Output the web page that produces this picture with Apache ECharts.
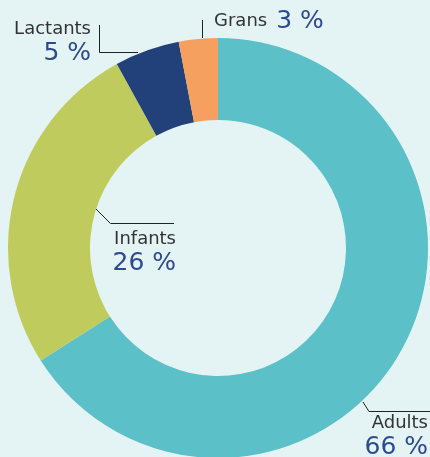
<!DOCTYPE html>
<html>
<head>
<meta charset="utf-8">
<script src="https://cdn.jsdelivr.net/npm/echarts@6/dist/echarts.min.js"></script>
<style>
  html, body { margin: 0; padding: 0; background: #e4f3f4; }
  #chart { width: 430px; height: 457px; }
</style>
</head>
<body>
<div id="chart"></div>
<script>
// dades
const categories = ['Adults', 'Infants', 'Lactants', 'Grans'];
const values = [66, 26, 5, 3];
const colors = ['#5bc0c7', '#bfcc5d', '#22417b', '#f6a05f'];

// posicions de les etiquetes (x, y, alineació) i línies guia
const labelPos = [
  { x: 428, y: 412, align: 'right', line: [[363, 402], [369, 411.5], [430, 411.5]] },
  { x: 176, y: 228, align: 'right', line: [[96, 209], [110.5, 223.5], [174, 223.5]] },
  { x: 91, y: 18, align: 'right', line: [[138, 52.5], [99.5, 52.5], [99.5, 25]] },
  { x: 214, y: 8, align: 'left', line: [[202.5, 38], [202.5, 20]] }
];

const chart = echarts.init(document.getElementById('chart'));

chart.setOption({
  backgroundColor: '#e4f3f4',
  animation: false,
  series: [
    {
      type: 'pie',
      center: [218, 248],
      radius: [128, 210],
      startAngle: 90,
      clockwise: true,
      avoidLabelOverlap: false,
      data: categories.map((name, i) => ({
        name: name,
        value: values[i],
        itemStyle: { color: colors[i] }
      })),
      label: {
        show: true,
        position: 'outside',
        fontFamily: 'DejaVu Sans',
        formatter: p => p.dataIndex === 3
          ? '{n|' + p.name + '}{p|' + p.value + ' %}'
          : '{n|' + p.name + '}\n{p|' + p.value + ' %}',
        rich: {
          n: { fontFamily: 'DejaVu Sans', fontSize: 18, color: '#333333', lineHeight: 22 },
          p: { fontFamily: 'DejaVu Sans', fontSize: 25, color: '#2b4a8f', lineHeight: 27, padding: [0, 0, 0, 9] }
        }
      },
      labelLine: {
        show: true,
        lineStyle: { color: '#222222', width: 1 }
      },
      labelLayout: params => {
        const lp = labelPos[params.dataIndex];
        return {
          x: lp.x,
          y: lp.y,
          align: lp.align,
          verticalAlign: 'top',
          labelLinePoints: lp.line
        };
      }
    }
  ]
});
</script>
</body>
</html>
